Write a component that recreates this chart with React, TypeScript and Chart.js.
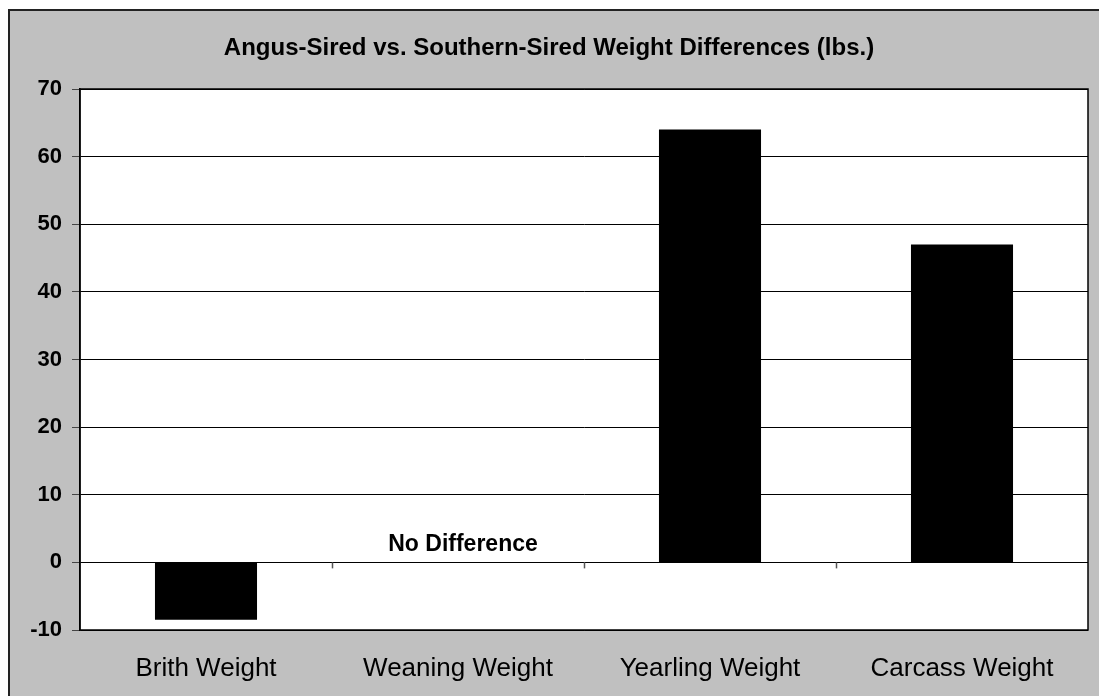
import React, { useEffect, useRef } from "react";
import { Chart, registerables } from "chart.js";

Chart.register(...registerables);

const categories = ["Brith Weight", "Weaning Weight", "Yearling Weight", "Carcass Weight"];
const weightDiffs = [-8.5, 0, 64, 47];
const yTicks = [-10, 0, 10, 20, 30, 40, 50, 60, 70];
const chartTitle = "Angus-Sired vs. Southern-Sired Weight Differences (lbs.)";
const noteText = "No Difference";
const noteCategoryIndex = 1;

const FONT = "'Liberation Sans', Arial, sans-serif";

const framePlugin = {
  id: "framePlugin",
  beforeDraw(chart: any) {
    const { ctx, width, height, chartArea } = chart;
    ctx.save();
    ctx.fillStyle = "#ffffff";
    ctx.fillRect(0, 0, width, height);
    ctx.fillStyle = "#c0c0c0";
    ctx.fillRect(8, 10, width - 8, height - 10);
    ctx.strokeStyle = "#222222";
    ctx.lineWidth = 2;
    ctx.beginPath();
    ctx.moveTo(9, height);
    ctx.lineTo(9, 10);
    ctx.lineTo(width, 10);
    ctx.stroke();
    ctx.fillStyle = "#ffffff";
    ctx.fillRect(chartArea.left, chartArea.top, chartArea.right - chartArea.left, chartArea.bottom - chartArea.top);
    ctx.restore();
  },
  afterDraw(chart: any) {
    const { ctx, chartArea, scales } = chart;
    const x = scales.x;
    const y = scales.y;
    ctx.save();
    ctx.strokeStyle = "#000000";
    ctx.lineWidth = 1.5;
    ctx.strokeRect(chartArea.left, chartArea.top, chartArea.right - chartArea.left, chartArea.bottom - chartArea.top);
    const y0 = y.getPixelForValue(0);
    ctx.strokeStyle = "#555555";
    ctx.lineWidth = 1.5;
    const n = categories.length;
    const step = (chartArea.right - chartArea.left) / n;
    for (let i = 1; i < n; i++) {
      const px = Math.round(chartArea.left + step * i) + 0.5;
      ctx.beginPath();
      ctx.moveTo(px, y0);
      ctx.lineTo(px, y0 + 6);
      ctx.stroke();
    }
    ctx.fillStyle = "#000000";
    ctx.font = `bold 24px ${FONT}`;
    ctx.textAlign = "center";
    ctx.textBaseline = "middle";
    ctx.fillText(chartTitle, 549, 48);
    ctx.font = `bold 23px ${FONT}`;
    const nx = x.getPixelForValue(noteCategoryIndex) + 5;
    ctx.fillText(noteText, nx, y0 - 18);
    ctx.restore();
  },
};

export default function App() {
  const ref = useRef<HTMLCanvasElement>(null);
  useEffect(() => {
    if (!ref.current) return;
    const chart = new Chart(ref.current, {
      type: "bar",
      data: {
        labels: categories,
        datasets: [
          {
            data: weightDiffs,
            backgroundColor: "#000000",
            borderWidth: 0,
            categoryPercentage: 1,
            barPercentage: 0.405,
          },
        ],
      },
      options: {
        animation: false,
        responsive: false,
        maintainAspectRatio: false,
        layout: { padding: { top: 89, right: 11, left: 0, bottom: 0 } },
        plugins: {
          legend: { display: false },
          title: { display: false },
          tooltip: { enabled: false },
        },
        scales: {
          x: {
            grid: { display: false, drawTicks: false },
            border: { display: false },
            ticks: {
              color: "#000000",
              font: { family: FONT, size: 26 },
              padding: 23,
              maxRotation: 0,
              autoSkip: false,
            },
            afterFit(scale: any) {
              scale.height = 66;
            },
          },
          y: {
            min: -10,
            max: 70,
            afterBuildTicks(scale: any) {
              scale.ticks = yTicks.map((v) => ({ value: v }));
            },
            grid: {
              color: "#000000",
              lineWidth: 1,
              tickLength: 8,
              tickColor: "#444444",
              drawTicks: true,
            },
            border: { display: true, color: "#000000", width: 1.5 },
            ticks: {
              color: "#000000",
              font: { family: FONT, size: 22, weight: "bold" },
              padding: 10,
            },
            afterFit(scale: any) {
              scale.width = 80;
            },
          },
        },
      },
      plugins: [framePlugin],
    });
    return () => chart.destroy();
  }, []);
  return (
    <div style={{ position: "fixed", left: 0, top: 0, width: 1099, height: 696 }}>
      <canvas ref={ref} width={1099} height={696} style={{ width: 1099, height: 696, display: "block" }} />
    </div>
  );
}
